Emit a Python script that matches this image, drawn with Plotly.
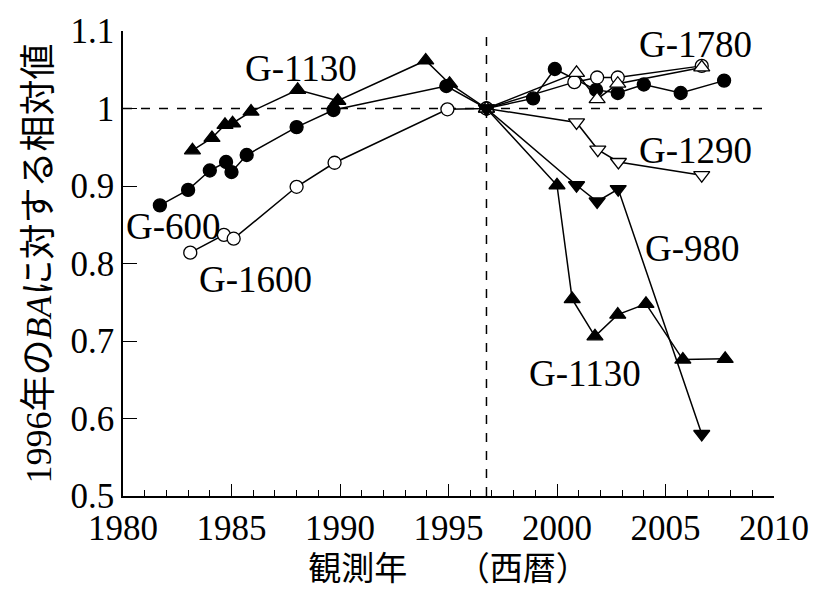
import plotly.graph_objects as go

BASE_YEAR = 1996.75

# G-600 (filled circles)
g600_x = [1981.7, 1983.0, 1984.0, 1984.75, 1985.0, 1985.7, 1988.0, 1989.7, 1994.9, BASE_YEAR,
          1998.9, 1999.9, 2001.8, 2002.8, 2004.0, 2005.7, 2007.7]
g600_y = [0.875, 0.895, 0.920, 0.931, 0.918, 0.940, 0.976, 0.998, 1.029, 1.0,
          1.013, 1.051, 1.024, 1.020, 1.031, 1.020, 1.036]

# G-1600 (open circles)
g1600_x = [1983.1, 1984.65, 1985.1, 1988.0, 1989.75, 1994.95, BASE_YEAR, 2000.8, 2001.85, 2002.8, 2006.67]
g1600_y = [0.814, 0.837, 0.832, 0.899, 0.930, 0.999, 1.0, 1.034, 1.040, 1.040, 1.055]

# G-1130 (filled triangles)
g1130_x = [1983.2, 1984.1, 1984.7, 1985.05, 1985.9, 1988.05, 1989.9, 1993.95, 1995.05, BASE_YEAR,
           2000.0, 2000.7, 2001.75, 2002.8, 2004.1, 2005.8, 2007.75]
g1130_y = [0.946, 0.962, 0.979, 0.981, 0.996, 1.024, 1.010, 1.062, 1.032, 1.0,
           0.901, 0.754, 0.706, 0.734, 0.748, 0.676, 0.677]

# G-1780 (open triangles)
g1780_x = [BASE_YEAR, 2000.9, 2001.85, 2002.8, 2006.67]
g1780_y = [1.0, 1.046, 1.012, 1.032, 1.053]

# G-1290 (open inverted triangles)
g1290_x = [BASE_YEAR, 2000.9, 2001.88, 2002.83, 2006.67]
g1290_y = [1.0, 0.982, 0.947, 0.931, 0.914]

# G-980 (filled inverted triangles)
g980_x = [BASE_YEAR, 2000.9, 2001.85, 2002.82, 2006.67]
g980_y = [1.0, 0.901, 0.880, 0.896, 0.580]

x_tickvals = [1980, 1985, 1990, 1995, 2000, 2005, 2010]
x_ticktext = ["1980", "1985", "1990", "1995", "2000", "2005", "2010"]
y_tickvals = [0.5, 0.6, 0.7, 0.8, 0.9, 1.0, 1.1]
y_ticktext = ["0.5", "0.6", "0.7", "0.8", "0.9", "1", "1.1"]

labels = ["G-1130", "G-600", "G-1600", "G-1780", "G-1290", "G-980", "G-1130"]
label_x = [1988.2, 1982.35, 1986.1, 2006.4, 2006.4, 2006.25, 2001.3]
label_y = [1.052, 0.848, 0.779, 1.082, 0.946, 0.819, 0.658]

FONT = "Times New Roman, Liberation Serif, Noto Sans CJK JP, serif"

fig = go.Figure()

series = [
    (g1130_x, g1130_y, "triangle-up", "black", "G-1130"),
    (g600_x, g600_y, "circle", "black", "G-600"),
    (g1600_x, g1600_y, "circle", "white", "G-1600"),
    (g1780_x, g1780_y, "triangle-up", "white", "G-1780"),
    (g1290_x, g1290_y, "triangle-down", "white", "G-1290"),
    (g980_x, g980_y, "triangle-down", "black", "G-980"),
]
for xs, ys, sym, fill, name in series:
    size = 13 if sym == "circle" else 14
    fig.add_trace(go.Scatter(
        x=xs, y=ys, mode="lines+markers", name=name,
        line=dict(color="black", width=1.5),
        marker=dict(symbol=sym, size=size, color=fill, line=dict(color="black", width=1.3)),
        showlegend=False,
    ))

# reference dashed lines
fig.add_shape(type="line", x0=1980, x1=2009.6, y0=1.0, y1=1.0,
              line=dict(color="black", width=1.5, dash="dash"), layer="below")
fig.add_shape(type="line", x0=BASE_YEAR, x1=BASE_YEAR, y0=0.5, y1=1.1,
              line=dict(color="black", width=1.5, dash="dash"), layer="below")

for t, lx, ly in zip(labels, label_x, label_y):
    fig.add_annotation(x=lx, y=ly, text=t, showarrow=False,
                       font=dict(family=FONT, size=37, color="black"),
                       xanchor="center", yanchor="middle")

fig.update_layout(
    width=821, height=593,
    margin=dict(l=123, r=39, t=30, b=91),
    paper_bgcolor="white", plot_bgcolor="white",
    font=dict(family=FONT, color="black"),
)
fig.update_xaxes(
    range=[1980, 2010], showline=True, linecolor="black", linewidth=1.5,
    showgrid=False, zeroline=False, ticks="inside", ticklen=12, tickwidth=1.3,
    tickcolor="black", tickvals=x_tickvals, ticktext=x_ticktext,
    tickfont=dict(family=FONT, size=35),
    minor=dict(ticks="inside", ticklen=6, tickwidth=1.2, tickcolor="black", dtick=1, showgrid=False),
    title=dict(text="観測年　　（西暦）", font=dict(family=FONT, size=33), standoff=10),
)
fig.update_yaxes(
    range=[0.5, 1.1], showline=True, linecolor="black", linewidth=1.5,
    showgrid=False, zeroline=False, ticks="inside", ticklen=14, tickwidth=1.3,
    tickcolor="black", tickvals=y_tickvals, ticktext=y_ticktext,
    tickfont=dict(family=FONT, size=35),
    title=dict(text="1996年の<i>BA</i>に対する相対値", font=dict(family=FONT, size=36), standoff=8),
)

fig.write_html("out.html")
